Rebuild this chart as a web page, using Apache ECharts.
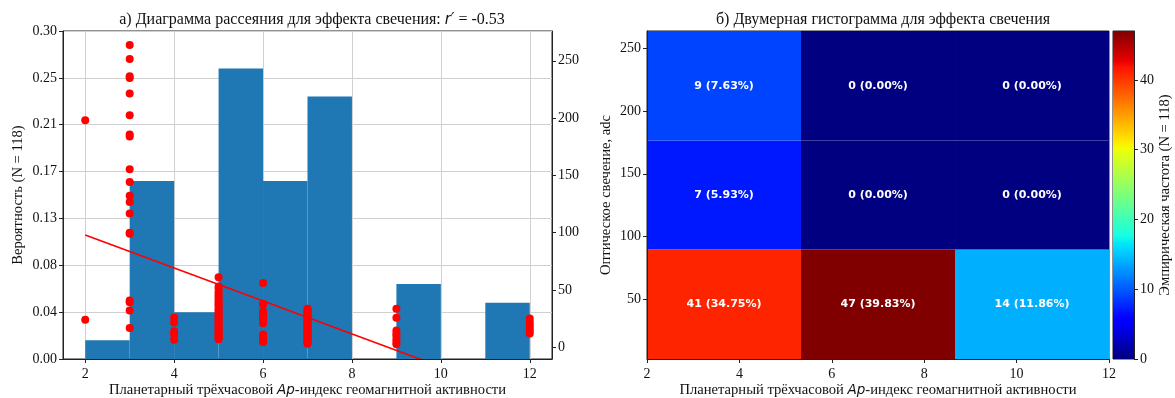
<!DOCTYPE html>
<html><head><meta charset="utf-8">
<script src="https://cdn.jsdelivr.net/npm/echarts@6/dist/echarts.min.js"></script>
<style>html,body{margin:0;padding:0;background:#fff}#c{width:1175px;height:398px}</style>
</head><body><div id="c"></div>
<script>
// ---------- data ----------
const N = 118;
const apTicks = [2, 4, 6, 8, 10, 12];
const histEdges = [2, 3, 4, 5, 6, 7, 8, 9, 10, 11, 12];
const histCounts = [2, 19, 5, 31, 19, 28, 0, 8, 0, 6];
const probTickLabels = ['0.00', '0.04', '0.08', '0.13', '0.17', '0.21', '0.25', '0.30'];
const glowTicks = [0, 50, 100, 150, 200, 250];
const glowAt2 = [198, 24];
const glowAt3 = [263.7, 251.5, 236.6, 235, 221.5, 202.5, 185.7, 184, 155.3, 144.3, 132.3, 126.7, 116.6, 100, 99, 40.8, 39.3, 32.1, 16.8];
const glowAt4 = [26, 21.5, 14, 11, 6.5];
const glowAt5 = [61, 53, 51, 48, 46, 44, 42, 40, 38, 37, 35, 33, 32, 30, 28, 27, 25, 24, 22, 21, 19, 18, 16, 15, 14, 12, 11, 10, 9, 8, 7];
const glowAt6 = [56, 38, 37, 31, 30, 29, 28, 27, 26, 25, 24, 23, 22, 21, 11, 9, 7, 5, 4.5];
const glowAt7 = [33.5, 32.5, 31, 30, 28.5, 27, 26.5, 25, 24, 22.5, 21, 20.5, 19, 18, 17.5, 16, 15, 14, 12.5, 12, 11, 9.5, 8, 7.5, 6, 5, 4, 3];
const glowAt9 = [33.5, 25.7, 14.5, 12, 10, 7, 4.5, 2.5];
const glowAt12 = [25, 22, 19.5, 17, 14.5, 12];
const regLineX = [2, 12];
const regLineY = [98, -46];
// 2D histogram
const hmXEdges = [2, 5.333, 8.667, 12];
const hmYEdges = [2.5, 89.6, 176.6, 263.7];
const hmCountsLow = [41, 47, 14];
const hmCountsMid = [7, 0, 0];
const hmCountsHigh = [9, 0, 0];
const hmYTicks = [50, 100, 150, 200, 250];
const cbTicks = [0, 10, 20, 30, 40];
const cbMax = 47;

// ---------- helpers ----------
const SERIF = '"Liberation Serif", "Times New Roman", serif';
const jetR = [[0, 0], [0.35, 0], [0.66, 1], [0.89, 1], [1, 0.5]];
const jetG = [[0, 0], [0.125, 0], [0.375, 1], [0.64, 1], [0.91, 0], [1, 0]];
const jetB = [[0, 0.5], [0.11, 1], [0.34, 1], [0.65, 0], [1, 0]];
function seg(s, t) {
  for (let i = 1; i < s.length; i++) {
    if (t <= s[i][0]) {
      const a = s[i - 1], b = s[i];
      return a[1] + (b[1] - a[1]) * (t - a[0]) / (b[0] - a[0]);
    }
  }
  return s[s.length - 1][1];
}
function jet(t) {
  t = Math.max(0, Math.min(1, t));
  const c = v => Math.round(v * 255);
  return 'rgb(' + c(seg(jetR, t)) + ',' + c(seg(jetG, t)) + ',' + c(seg(jetB, t)) + ')';
}
const jetStops = [];
for (let i = 0; i <= 100; i++) jetStops.push({ offset: i / 100, color: jet(i / 100) });

const probStep = 5 / N;
const probMax = 7 * probStep;

function col(x, arr) { return arr.map(v => [x, v]); }
const scatterData = [].concat(
  col(2, glowAt2), col(3, glowAt3), col(4, glowAt4), col(5, glowAt5),
  col(6, glowAt6), col(7, glowAt7), col(9, glowAt9), col(12, glowAt12));

const histData = histCounts.map((c, i) => [histEdges[i], histEdges[i + 1], c / N]);

const hmRows = [hmCountsLow, hmCountsMid, hmCountsHigh];
const hmData = [];
hmRows.forEach((row, r) => row.forEach((c, k) => {
  hmData.push([hmXEdges[k], hmXEdges[k + 1], hmYEdges[r], hmYEdges[r + 1], c]);
}));

const TICK_FS = 14, NAME_FS = 14.6, TITLE_FS = 16;
const axisText = { fontFamily: SERIF, fontSize: TICK_FS, color: '#111' };
const nameText = { fontFamily: SERIF, fontSize: NAME_FS, color: '#111', fontWeight: 'normal' };
const lineStyle = { color: '#222', width: 1 };
const gridLine = { color: '#d0d0d0', width: 1 };
const apName = '{n|Планетарный трёхчасовой }{i|Ap}{n|-индекс геомагнитной активности}';
const apNameStyle = { rich: {
  n: { fontFamily: SERIF, fontSize: NAME_FS, color: '#111' },
  i: { fontFamily: '"DejaVu Sans"', fontStyle: 'italic', fontSize: 13.5, color: '#111' } } };
const hidden = { axisLine: { show: false }, axisTick: { show: false }, axisLabel: { show: false } };
const gridBase = { show: true, borderColor: '#222', borderWidth: 1, backgroundColor: 'transparent', containLabel: false, outerBoundsMode: 'none' };

const chart = echarts.init(document.getElementById('c'), null, { renderer: 'canvas' });
chart.setOption({
  animation: false,
  backgroundColor: '#fff',
  title: [
    {
      text: '{n|а) Диаграмма рассеяния для эффекта свечения: }{i|r′}{n| = -0.53}',
      left: 307, top: 7, textAlign: 'center',
      textStyle: { fontWeight: 'normal', rich: {
        n: { fontFamily: SERIF, fontSize: TITLE_FS, fontWeight: 'normal', color: '#111' },
        i: { fontFamily: '"DejaVu Sans"', fontStyle: 'italic', fontWeight: 'normal', fontSize: 15, color: '#111' } } }
    },
    {
      text: 'б) Двумерная гистограмма для эффекта свечения',
      left: 878, top: 7, textAlign: 'center',
      textStyle: { fontFamily: SERIF, fontSize: TITLE_FS, fontWeight: 'normal', color: '#111' }
    }
  ],
  grid: [
    { ...gridBase, left: 63, top: 31, width: 489, height: 328 },
    { ...gridBase, left: 647, top: 31, width: 462, height: 328 },
    { ...gridBase, left: 1113, top: 31, width: 21, height: 328 }
  ],
  xAxis: [
    { // 0: scatter/hist axis, grid lines only (drawn beneath the marks)
      type: 'value', gridIndex: 0, position: 'bottom', min: 1.5, max: 12.5, z: 0, ...hidden,
      axisTick: { show: false, customValues: apTicks },
      splitLine: { show: true, lineStyle: gridLine }
    },
    { // 1: heatmap
      type: 'value', gridIndex: 1, position: 'bottom', min: 2, max: 12, interval: 2, z: 10,
      name: apName, nameLocation: 'middle', nameGap: 24, nameMoveOverlap: false, nameTextStyle: apNameStyle,
      axisLine: { show: true, onZero: false, lineStyle },
      axisTick: { show: true, length: 4, lineStyle },
      axisLabel: { ...axisText, margin: 8 },
      splitLine: { show: false }
    },
    { // 2: colorbar
      type: 'value', gridIndex: 2, position: 'bottom', min: 0, max: 1, show: false
    },
    { // 3: left plot visible x axis (drawn above the bars)
      type: 'value', gridIndex: 0, position: 'bottom', offset: 0, min: 1.5, max: 12.5, z: 10,
      name: apName, nameLocation: 'middle', nameGap: 24, nameMoveOverlap: false, nameTextStyle: apNameStyle,
      axisLine: { show: true, onZero: false, lineStyle },
      axisTick: { show: true, length: 4, lineStyle, customValues: apTicks },
      axisLabel: { ...axisText, margin: 8, customValues: apTicks },
      splitLine: { show: false }
    }
  ],
  yAxis: [
    { // 0: probability, grid lines only
      type: 'value', gridIndex: 0, position: 'left', min: 0, max: probMax, interval: probStep, z: 0, ...hidden,
      splitLine: { show: true, lineStyle: gridLine }
    },
    { // 1: glow (right)
      type: 'value', gridIndex: 0, position: 'right', offset: 0, min: -10.3, max: 276, z: 10,
      axisLine: { show: true, onZero: false, lineStyle },
      axisTick: { show: true, length: 4, lineStyle, customValues: glowTicks },
      axisLabel: { ...axisText, margin: 6, customValues: glowTicks },
      splitLine: { show: false }
    },
    { // 2: heatmap y
      type: 'value', gridIndex: 1, position: 'left', min: hmYEdges[0], max: hmYEdges[3], z: 10,
      name: 'Оптическое свечение, adc', nameLocation: 'middle', nameGap: 33, nameMoveOverlap: false,
      nameTextStyle: nameText,
      axisLine: { show: true, onZero: false, lineStyle },
      axisTick: { show: true, length: 4, lineStyle, customValues: hmYTicks },
      axisLabel: { ...axisText, margin: 6, customValues: hmYTicks },
      splitLine: { show: false }
    },
    { // 3: colorbar
      type: 'value', gridIndex: 2, position: 'right', min: 0, max: cbMax, interval: 10, z: 10,
      name: 'Эмпирическая частота (N = 118)', nameLocation: 'middle', nameGap: 24, nameMoveOverlap: false,
      nameTextStyle: nameText,
      axisLine: { show: true, onZero: false, lineStyle },
      axisTick: { show: true, length: 4, lineStyle, customValues: cbTicks },
      axisLabel: { ...axisText, margin: 6, customValues: cbTicks },
      splitLine: { show: false }
    },
    { // 4: probability visible axis
      type: 'value', gridIndex: 0, position: 'left', offset: 0, min: 0, max: probMax, interval: probStep, z: 10,
      name: 'Вероятность (N = 118)', nameLocation: 'middle', nameGap: 37, nameMoveOverlap: false,
      nameTextStyle: nameText,
      axisLine: { show: true, onZero: false, lineStyle },
      axisTick: { show: true, length: 4, lineStyle },
      axisLabel: { ...axisText, margin: 6, formatter: v => probTickLabels[Math.round(v / probStep)] },
      splitLine: { show: false }
    }
  ],
  series: [
    {
      type: 'custom', xAxisIndex: 0, yAxisIndex: 0, z: 1,
      data: histData, encode: { x: [0, 1], y: 2 },
      renderItem: (params, api) => {
        const a = api.coord([api.value(0), api.value(2)]);
        const b = api.coord([api.value(1), 0]);
        return { type: 'rect', shape: { x: a[0], y: a[1], width: b[0] - a[0], height: b[1] - a[1] },
                 style: { fill: '#1f77b4' } };
      }
    },
    {
      type: 'line', xAxisIndex: 0, yAxisIndex: 1, z: 4, clip: true,
      data: regLineX.map((x, i) => [x, regLineY[i]]),
      symbol: 'none', lineStyle: { color: '#ff0000', width: 1.6 }
    },
    {
      type: 'scatter', xAxisIndex: 0, yAxisIndex: 1, z: 5,
      data: scatterData, symbol: 'circle', symbolSize: 8,
      itemStyle: { color: '#ff0000', opacity: 1 }
    },
    {
      type: 'custom', xAxisIndex: 1, yAxisIndex: 2, z: 2,
      data: hmData, encode: { x: [0, 1], y: [2, 3] },
      renderItem: (params, api) => {
        const a = api.coord([api.value(0), api.value(3)]);
        const b = api.coord([api.value(1), api.value(2)]);
        const c = api.value(4);
        const label = c + ' (' + (c / N * 100).toFixed(2) + '%)';
        return { type: 'group', children: [
          { type: 'rect', shape: { x: a[0], y: a[1], width: b[0] - a[0], height: b[1] - a[1] },
            style: { fill: jet(c / cbMax) } },
          { type: 'text', x: (a[0] + b[0]) / 2, y: (a[1] + b[1]) / 2,
            style: { text: label, fill: '#fff', fontFamily: '"DejaVu Sans", sans-serif', fontWeight: 'bold', fontSize: 11,
                     align: 'center', verticalAlign: 'middle' } }
        ] };
      }
    },
    {
      type: 'custom', xAxisIndex: 2, yAxisIndex: 3, z: 2,
      data: [[0, 1, 0, cbMax]], encode: { x: [0, 1], y: [2, 3] },
      renderItem: (params, api) => {
        const a = api.coord([api.value(0), api.value(3)]);
        const b = api.coord([api.value(1), api.value(2)]);
        return { type: 'rect', shape: { x: a[0], y: a[1], width: b[0] - a[0], height: b[1] - a[1] },
                 style: { fill: new echarts.graphic.LinearGradient(0, 1, 0, 0, jetStops) } };
      }
    }
  ]
});
</script>
</body></html>
